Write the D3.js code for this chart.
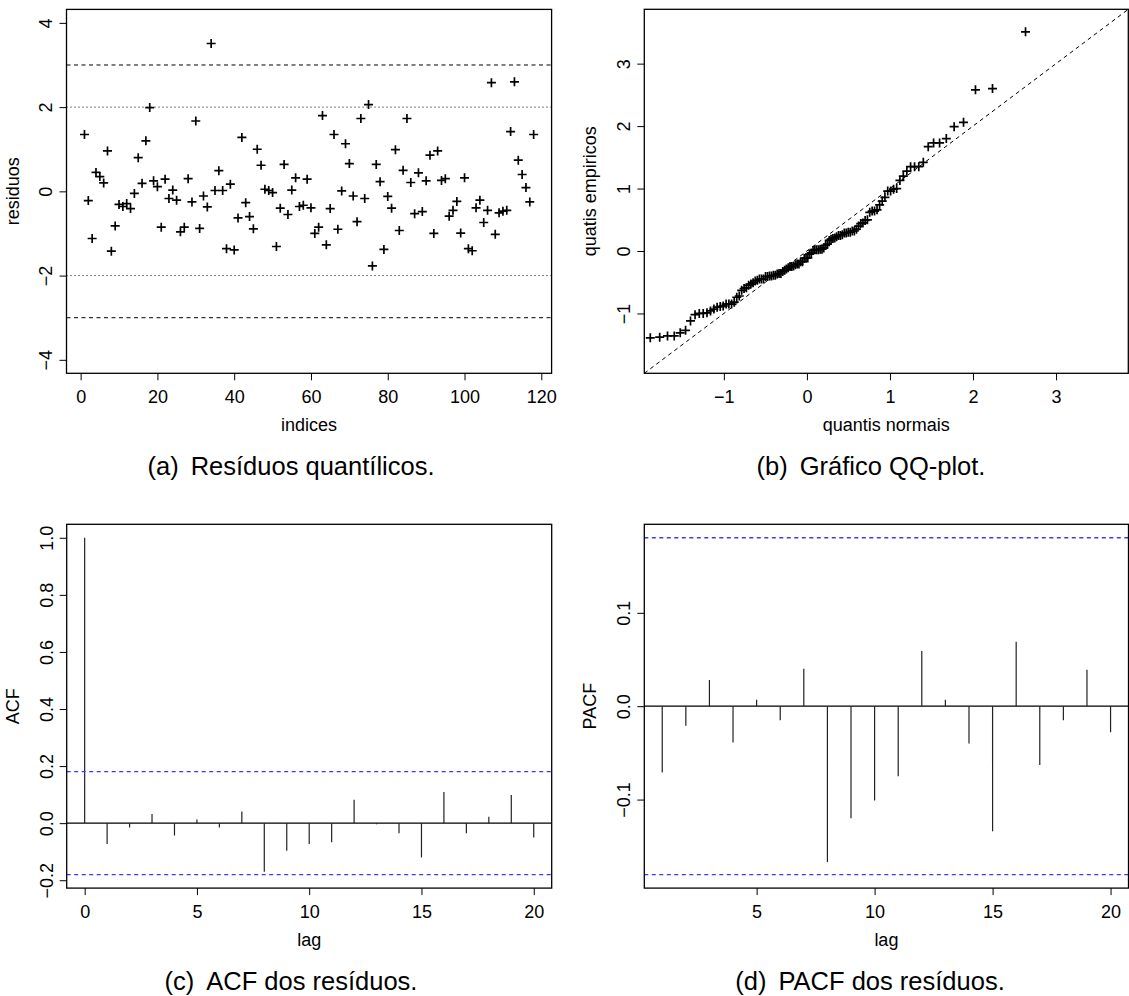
<!DOCTYPE html>
<html>
<head>
<meta charset="utf-8">
<script src="https://cdn.jsdelivr.net/npm/d3@7"></script>
<style>
  body { margin: 0; background: #fff; }
  svg { display: block; }
</style>
</head>
<body>
<div id="d3"></div>
<script>
// residuos quantilicos, indices 1..118
var residuos = [
  1.35, -0.22, -1.12, 0.45, 0.35, 0.2, 0.96, -1.42, -0.82, -0.31,
  -0.36, -0.29, -0.41, -0.05, 0.8, 0.19, 1.2, 1.99, 0.25, 0.11,
  -0.85, 0.29, -0.17, 0.03, -0.21, -0.96, -0.85, 0.3, -0.25, 1.67,
  -0.88, -0.11, -0.37, 3.51, 0.02, 0.49, 0.02, -1.36, 0.17, -1.39,
  -0.63, 1.28, -0.27, -0.6, -0.89, 1.0, 0.62, 0.05, 0.02, -0.03,
  -1.31, -0.4, 0.64, -0.55, 0.03, 0.32, -0.36, -0.33, 0.29, -0.39,
  -1.0, -0.85, 1.8, -1.27, -0.41, 1.35, -0.9, 0.01, 1.13, 0.66,
  -0.11, -0.72, 1.73, -0.17, 2.06, -1.77, 0.64, 0.23, -1.38, -0.12,
  -0.4, 0.99, -0.93, 0.5, 1.73, 0.21, -0.53, 0.44, -0.48, 0.25,
  0.86, -1.0, 0.96, 0.26, 0.3, -0.59, -0.45, -0.24, -0.99, 0.32,
  -1.36, -1.41, -0.39, -0.21, -0.74, -0.45, 2.58, -1.02, -0.51, -0.47,
  -0.45, 1.42, 2.6, 0.74, 0.4, 0.09, -0.25, 1.35
];

var acfLags = d3.range(0, 21);
var acfValues = [1.0, -0.073, -0.015, 0.032, -0.043, 0.013, -0.015, 0.041, -0.17, -0.097,
  -0.073, -0.067, 0.082, -0.004, -0.035, -0.12, 0.109, -0.035, 0.022, 0.099, -0.05];

var pacfLags = d3.range(1, 21);
var pacfValues = [-0.071, -0.021, 0.028, -0.039, 0.007, -0.015, 0.04, -0.167, -0.12, -0.101,
  -0.075, 0.059, 0.007, -0.04, -0.134, 0.069, -0.063, -0.015, 0.039, -0.028];

var limConf = 0.1804;

var ticksA_x = [0, 20, 40, 60, 80, 100, 120], ticksA_y = [-4, -2, 0, 2, 4];
var ticksB = [-1, 0, 1, 2, 3];
var ticksC_x = [0, 5, 10, 15, 20], ticksC_y = [-0.2, 0, 0.2, 0.4, 0.6, 0.8, 1.0];
var ticksD_x = [5, 10, 15, 20], ticksD_y = [-0.1, 0, 0.1];

var captions = ["Resíduos quantílicos.", "Gráfico QQ-plot.", "ACF dos resíduos.", "PACF dos resíduos."];

// quantil normal (Acklam)
function qnorm(p) {
  var a = [-39.69683028665376, 220.9460984245205, -275.9285104469687, 138.3577518672690, -30.66479806614716, 2.506628277459239];
  var b = [-54.47609879822406, 161.5858368580409, -155.6989798598866, 66.80131188771972, -13.28068155288572];
  var c = [-0.007784894002430293, -0.3223964580411365, -2.400758277161838, -2.549732539343734, 4.374664141464968, 2.938163982698783];
  var d = [0.007784695709041462, 0.3224671290700398, 2.445134137142996, 3.754408661907416];
  var q, r;
  if (p < 0.02425) {
    q = Math.sqrt(-2 * Math.log(p));
    return (((((c[0]*q+c[1])*q+c[2])*q+c[3])*q+c[4])*q+c[5]) / ((((d[0]*q+d[1])*q+d[2])*q+d[3])*q+1);
  } else if (p <= 1 - 0.02425) {
    q = p - 0.5; r = q * q;
    return (((((a[0]*r+a[1])*r+a[2])*r+a[3])*r+a[4])*r+a[5])*q / (((((b[0]*r+b[1])*r+b[2])*r+b[3])*r+b[4])*r+1);
  }
  q = Math.sqrt(-2 * Math.log(1 - p));
  return -(((((c[0]*q+c[1])*q+c[2])*q+c[3])*q+c[4])*q+c[5]) / ((((d[0]*q+d[1])*q+d[2])*q+d[3])*q+1);
}

var n = residuos.length;
var ordenados = residuos.slice().sort(d3.ascending);
var qq = ordenados.map(function(v, i) { return { x: qnorm((i + 0.5) / n), y: v }; });

var W = 1129, H = 996;
var svg = d3.select("#d3").append("svg")
    .attr("width", W).attr("height", H)
    .attr("font-family", "'Liberation Sans', Arial, Helvetica, sans-serif");

var cross = "M-4.5,0H4.5M0,-4.5V4.5";

// R extends the range by 4%
function ext(lo, hi) { var e = (hi - lo) * 0.04; return [lo - e, hi + e]; }

function panel(box, xs, ys, xt, yt, fmtY, xlab, ylab, id) {
  var g = svg.append("g");
  g.append("clipPath").attr("id", id)
    .append("rect")
      .attr("x", box.x0).attr("y", box.y0)
      .attr("width", box.x1 - box.x0).attr("height", box.y1 - box.y0);

  var ax = g.append("g")
      .attr("transform", "translate(0," + box.y1 + ")")
      .call(d3.axisBottom(xs).tickValues(xt).tickSize(7).tickPadding(10).tickFormat(d3.format("d")));
  ax.select(".domain").remove();
  ax.selectAll("text").attr("font-size", "18px").attr("fill", "#000");
  ax.selectAll("line").attr("stroke", "#000");

  var ay = g.append("g")
      .attr("transform", "translate(" + box.x0 + ",0)")
      .call(d3.axisLeft(ys).tickValues(yt).tickSize(7).tickFormat(fmtY));
  ay.select(".domain").remove();
  ay.selectAll("line").attr("stroke", "#000");
  ay.selectAll("text")
      .attr("x", 0)
      .attr("dy", "0.35em")
      .attr("text-anchor", "middle")
      .attr("transform", "translate(-20.5,0) rotate(-90)")
      .attr("font-size", "18px")
      .attr("fill", "#000");

  g.append("text")
      .attr("x", (box.x0 + box.x1) / 2)
      .attr("y", box.y1 + 58)
      .attr("text-anchor", "middle")
      .attr("font-size", "18px")
      .text(xlab);

  g.append("text")
      .attr("transform", "translate(" + (box.x0 - 48) + "," + ((box.y0 + box.y1) / 2) + ") rotate(-90)")
      .attr("text-anchor", "middle")
      .attr("font-size", "18px")
      .text(ylab);

  var inner = g.append("g").attr("clip-path", "url(#" + id + ")");

  g.append("rect")
      .attr("x", box.x0).attr("y", box.y0)
      .attr("width", box.x1 - box.x0).attr("height", box.y1 - box.y0)
      .attr("fill", "none").attr("stroke", "#000").attr("stroke-width", 1.3);
  return inner;
}

function caption(letter, txt, cx, y) {
  var t = svg.append("text")
      .attr("x", cx).attr("y", y)
      .attr("text-anchor", "middle")
      .attr("font-size", "25.5px");
  t.append("tspan").text("(" + letter + ")");
  t.append("tspan").attr("dx", 12).text(txt);
}

var fmtInt = d3.format("d"), fmt1 = d3.format(".1f");

// (a) residuos x indices
var boxA = { x0: 66.5, x1: 551.6, y0: 9.4, y1: 373.3 };
var xA = d3.scaleLinear().domain(ext(1, n)).range([boxA.x0, boxA.x1]);
var yA = d3.scaleLinear().domain(ext(-4, 4)).range([boxA.y1, boxA.y0]);
var gA = panel(boxA, xA, yA, ticksA_x, ticksA_y, fmtInt, "indices", "residuos", "clipA");

gA.selectAll("line.ref")
    .data([3, -3, 2, -2]).enter()
    .append("line")
    .attr("x1", boxA.x0).attr("x2", boxA.x1)
    .attr("y1", function(d) { return yA(d); })
    .attr("y2", function(d) { return yA(d); })
    .attr("stroke", "#000")
    .attr("stroke-width", 1)
    .attr("stroke-dasharray", function(d) { return Math.abs(d) === 3 ? "4,3.5" : "1,3"; });

gA.selectAll("path.pt")
    .data(residuos).enter()
    .append("path")
    .attr("d", cross)
    .attr("transform", function(d, i) { return "translate(" + xA(i + 1) + "," + yA(d) + ")"; })
    .attr("stroke", "#000")
    .attr("stroke-width", 1.7);

// (b) QQ-plot
var boxB = { x0: 644.3, x1: 1128.3, y0: 9.3, y1: 373.3 };
var limB = [-1.958, 3.87];
var xB = d3.scaleLinear().domain(limB).range([boxB.x0, boxB.x1]);
var yB = d3.scaleLinear().domain(limB).range([boxB.y1, boxB.y0]);
var gB = panel(boxB, xB, yB, ticksB, ticksB, fmtInt, "quantis normais", "quatis empiricos", "clipB");

gB.append("line")
    .attr("x1", xB(limB[0])).attr("y1", yB(limB[0]))
    .attr("x2", xB(limB[1])).attr("y2", yB(limB[1]))
    .attr("stroke", "#000").attr("stroke-width", 1)
    .attr("stroke-dasharray", "4,3.5");

gB.selectAll("path.pt")
    .data(qq).enter()
    .append("path")
    .attr("d", cross)
    .attr("transform", function(d) { return "translate(" + xB(d.x) + "," + yB(d.y) + ")"; })
    .attr("stroke", "#000")
    .attr("stroke-width", 1.7);

// (c) ACF
var boxC = { x0: 66.7, x1: 551.7, y0: 524.3, y1: 888.1 };
var xC = d3.scaleLinear().domain(ext(0, 20)).range([boxC.x0, boxC.x1]);
var yC = d3.scaleLinear().domain(ext(-limConf, 1)).range([boxC.y1, boxC.y0]);
var gC = panel(boxC, xC, yC, ticksC_x, ticksC_y, fmt1, "lag", "ACF", "clipC");

// (d) PACF
var boxD = { x0: 644.3, x1: 1128.5, y0: 524.3, y1: 888.1 };
var xD = d3.scaleLinear().domain(ext(1, 20)).range([boxD.x0, boxD.x1]);
var yD = d3.scaleLinear().domain(ext(-limConf, limConf)).range([boxD.y1, boxD.y0]);
var gD = panel(boxD, xD, yD, ticksD_x, ticksD_y, fmt1, "lag", "PACF", "clipD");

[[gC, xC, yC, boxC, acfLags, acfValues], [gD, xD, yD, boxD, pacfLags, pacfValues]].forEach(function(p) {
  var g = p[0], xs = p[1], ys = p[2], box = p[3], lags = p[4], vals = p[5];
  g.append("line")
      .attr("x1", box.x0).attr("x2", box.x1)
      .attr("y1", ys(0)).attr("y2", ys(0))
      .attr("stroke", "#000").attr("stroke-width", 1.3);
  g.selectAll("line.bar")
      .data(vals).enter()
      .append("line")
      .attr("x1", function(d, i) { return xs(lags[i]); })
      .attr("x2", function(d, i) { return xs(lags[i]); })
      .attr("y1", ys(0))
      .attr("y2", function(d) { return ys(d); })
      .attr("stroke", "#222")
      .attr("stroke-width", 1.2);
  g.selectAll("line.conf")
      .data([limConf, -limConf]).enter()
      .append("line")
      .attr("x1", box.x0).attr("x2", box.x1)
      .attr("y1", function(d) { return ys(d); })
      .attr("y2", function(d) { return ys(d); })
      .attr("stroke", "#3a3aff")
      .attr("stroke-width", 1.4)
      .attr("stroke-dasharray", "4,3.5");
});

caption("a", captions[0], 291, 475);
caption("b", captions[1], 871, 475);
caption("c", captions[2], 291, 990);
caption("d", captions[3], 870, 990);
</script>
</body>
</html>
